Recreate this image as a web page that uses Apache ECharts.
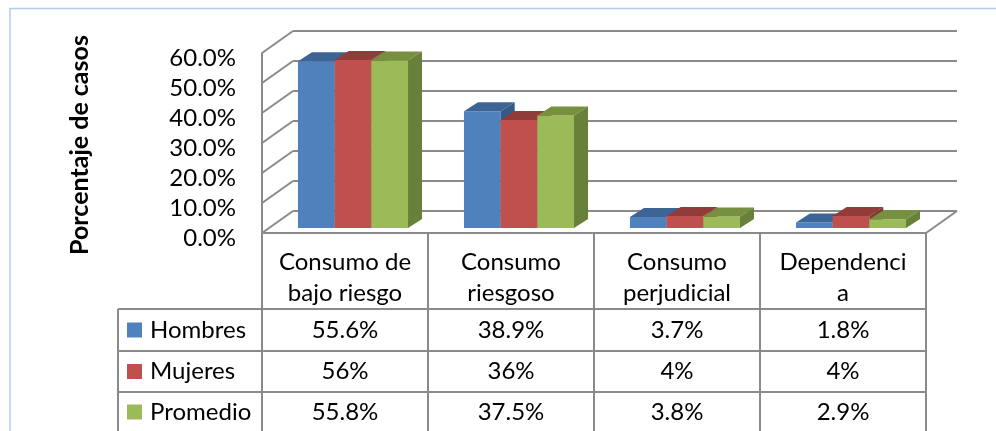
<!DOCTYPE html>
<html><head><meta charset="utf-8">
<script src="https://cdn.jsdelivr.net/npm/echarts@6/dist/echarts.min.js"></script>
<style>html,body{margin:0;padding:0;background:#fff}#c{width:996px;height:431px}</style>
</head><body><div id="c"></div>
<script>
// ---- data ----
const categories = ['Consumo de\nbajo riesgo', 'Consumo\nriesgoso', 'Consumo\nperjudicial', 'Dependenci\na'];
const seriesNames = ['Hombres', 'Mujeres', 'Promedio'];
const hombres = [55.6, 38.9, 3.7, 1.8];
const mujeres = [56, 36, 4, 4];
const promedio = [55.8, 37.5, 3.8, 2.9];
const hombresLabels = ['55.6%', '38.9%', '3.7%', '1.8%'];
const mujeresLabels = ['56%', '36%', '4%', '4%'];
const promedioLabels = ['55.8%', '37.5%', '3.8%', '2.9%'];
const yTicks = [0, 10, 20, 30, 40, 50, 60];
const yTitle = 'Porcentaje de casos';

// ---- style ----
const FONT = 'Lato';
const FS = 24;
const GRAY = '#8a8a8a';
const fronts = ['#4F81BD', '#C0504D', '#9BBB59'];
const tops = ['#3C6494', '#923C3A', '#76903F'];
const sides = ['#365A86', '#843634', '#67803A'];
const DEPTH_X = 31, DEPTH_Y = -22;      // wall depth
const BAR_DX = 14, BAR_DY = -9;         // bar depth
const BAR_SHIFT_X = 8, BAR_SHIFT_Y = -5; // bar position within depth
const rowY = [330, 371.5, 412];
const rowTop = 309, rowLines = [309, 351, 392];
const tableLeft = 118;

const allValues = [hombres, mujeres, promedio];
const allLabels = [hombresLabels, mujeresLabels, promedioLabels];

const chart = echarts.init(document.getElementById('c'));

function barSeries(s) {
  return {
    type: 'custom', name: seriesNames[s], xAxisIndex: 0, yAxisIndex: 0, z: 10 + s,
    data: allValues[s].map((v, i) => [i, v]),
    renderItem: function (params, api) {
      const cat = api.value(0), v = api.value(1);
      const base = api.coord([cat, 0]);
      const top = api.coord([cat, v]);
      const band = api.size([1, 0])[0];
      const w = band * 0.221;
      const x0 = base[0] - 1.5 * w + BAR_SHIFT_X + s * w;
      const yB = base[1] + BAR_SHIFT_Y, yT = top[1] + BAR_SHIFT_Y;
      return {
        type: 'group', children: [
          { type: 'rect', shape: { x: x0, y: yT, width: w, height: yB - yT }, style: { fill: fronts[s] } },
          { type: 'polygon', shape: { points: [[x0, yT], [x0 + BAR_DX, yT + BAR_DY], [x0 + w + BAR_DX, yT + BAR_DY], [x0 + w, yT]] }, style: { fill: tops[s] } },
          { type: 'polygon', shape: { points: [[x0 + w, yT], [x0 + w + BAR_DX, yT + BAR_DY], [x0 + w + BAR_DX, yB + BAR_DY], [x0 + w, yB]] }, style: { fill: sides[s] } }
        ]
      };
    }
  };
}

const option = {
  backgroundColor: '#fff',
  animation: false,
  textStyle: { fontFamily: FONT },
  grid: [
    { left: 262, top: 53, width: 664, height: 180 },  // front plane
    { left: 293, top: 31, width: 664, height: 180 }   // back wall
  ],
  xAxis: [
    { type: 'category', gridIndex: 0, data: categories, axisLine: { show: false }, axisTick: { show: false },
      axisLabel: { color: '#000', fontSize: FS, fontFamily: FONT, lineHeight: 31, margin: 14, interval: 0 } },
    { type: 'category', gridIndex: 1, data: categories, show: false }
  ],
  yAxis: [
    { type: 'value', gridIndex: 0, min: 0, max: 60, interval: 10,
      axisLine: { show: true, lineStyle: { color: GRAY, width: 2 } }, axisTick: { show: false }, splitLine: { show: false },
      axisLabel: { color: '#000', fontSize: FS, fontFamily: FONT, margin: 26, verticalAlign: 'top', lineHeight: 24, padding: [-7, 0, 0, 0],
        formatter: v => v.toFixed(1) + '%' } },
    { type: 'value', gridIndex: 1, min: 0, max: 60, interval: 10,
      axisLine: { show: false }, axisTick: { show: false }, axisLabel: { show: false },
      splitLine: { show: true, lineStyle: { color: GRAY, width: 2 } } }
  ],
  series: [
    { // left wall diagonals + floor edges
      type: 'custom', xAxisIndex: 1, yAxisIndex: 1, z: 2, silent: true,
      data: yTicks.map(v => [0, v]),
      renderItem: function (params, api) {
        const cs = params.coordSys;
        const y = api.coord([0, api.value(1)])[1];
        const ls = { stroke: GRAY, lineWidth: 2 };
        const ch = [{ type: 'line', shape: { x1: cs.x - DEPTH_X, y1: y - DEPTH_Y, x2: cs.x, y2: y }, style: ls }];
        if (api.value(1) === 0) {
          ch.push({ type: 'line', shape: { x1: cs.x + cs.width - DEPTH_X, y1: y - DEPTH_Y, x2: cs.x + cs.width, y2: y }, style: ls });
          ch.push({ type: 'line', shape: { x1: cs.x - DEPTH_X, y1: y - DEPTH_Y, x2: cs.x + cs.width - DEPTH_X, y2: y - DEPTH_Y }, style: ls });
        }
        return { type: 'group', children: ch };
      }
    },
    barSeries(0), barSeries(1), barSeries(2),
    { // data table
      type: 'custom', xAxisIndex: 0, yAxisIndex: 0, z: 5, silent: true,
      data: categories.map((c, i) => [i, 0]),
      renderItem: function (params, api) {
        const i = api.value(0);
        const cx = api.coord([i, 0])[0];
        const band = api.size([1, 0])[0];
        const yBase = api.coord([i, 0])[1];
        const ls = { stroke: GRAY, lineWidth: 2 };
        const ch = [];
        ch.push({ type: 'line', shape: { x1: cx + band / 2, y1: yBase, x2: cx + band / 2, y2: 440 }, style: ls });
        if (i === 0) ch.push({ type: 'line', shape: { x1: cx - band / 2, y1: yBase, x2: cx - band / 2, y2: 440 }, style: ls });
        for (let r = 0; r < 3; r++) {
          ch.push({ type: 'text', style: { text: allLabels[r][i], x: cx, y: rowY[r], align: 'center', verticalAlign: 'middle', fill: '#000', fontSize: FS, fontFamily: FONT } });
        }
        return { type: 'group', children: ch };
      }
    }
  ],
  graphic: [
    { type: 'polyline', shape: { points: [[10, 440], [10, 8.5], [1000, 8.5]] }, style: { stroke: '#b4cbe5', lineWidth: 1.5, fill: null } },
    { type: 'text', x: 80, y: 145, rotation: Math.PI / 2, style: { text: yTitle, align: 'center', verticalAlign: 'middle', fill: '#000', fontSize: 25, fontWeight: 'bold', fontFamily: FONT } },
    ...rowLines.map(y => ({ type: 'line', shape: { x1: tableLeft, y1: y, x2: 926, y2: y }, style: { stroke: GRAY, lineWidth: 2 } })),
    { type: 'line', shape: { x1: tableLeft, y1: rowTop, x2: tableLeft, y2: 440 }, style: { stroke: GRAY, lineWidth: 2 } },
    ...seriesNames.map((n, r) => ({ type: 'rect', shape: { x: 127, y: rowY[r] - 7.5, width: 15, height: 15 }, style: { fill: fronts[r] } })),
    ...seriesNames.map((n, r) => ({ type: 'text', x: 150, y: rowY[r], style: { text: n, align: 'left', verticalAlign: 'middle', fill: '#000', fontSize: FS, fontFamily: FONT } }))
  ]
};
chart.setOption(option);
</script>
</body></html>
